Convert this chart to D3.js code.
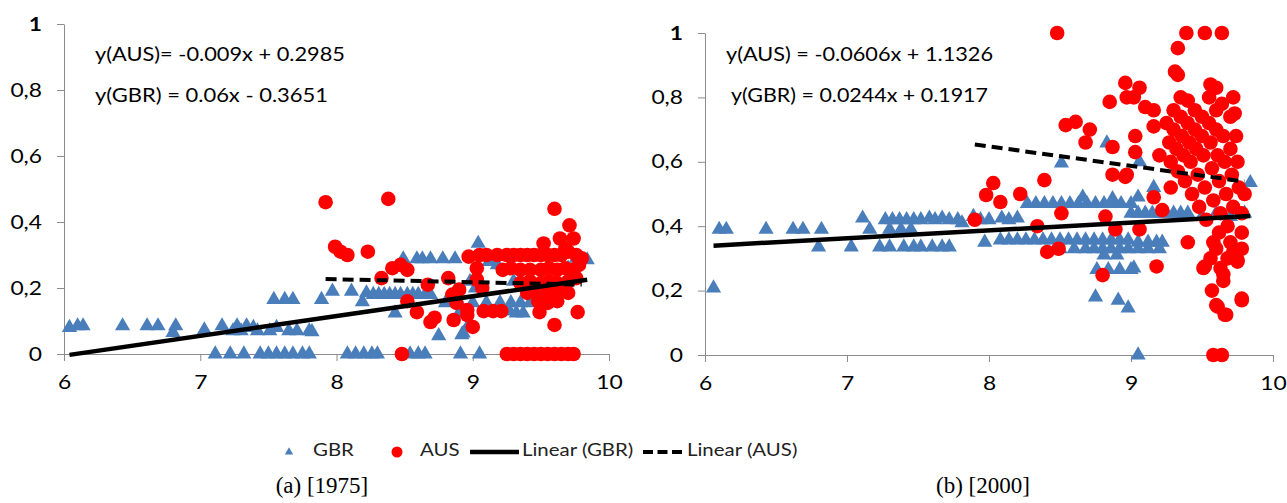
<!DOCTYPE html>
<html><head><meta charset="utf-8">
<script src="https://cdn.jsdelivr.net/npm/d3@7"></script>
<style>
html,body{margin:0;padding:0;background:#fff;}
svg{display:block;}
</style></head>
<body>
<svg id="chart" width="1287" height="503"></svg>
<script>
// ---------- DATA ----------
const xTicks = [6, 7, 8, 9, 10];
const yTicks = [0, 0.2, 0.4, 0.6, 0.8, 1];
const yTickLabels = ["0", "0,2", "0,4", "0,6", "0,8", "1"];
const seriesNames = ["GBR", "AUS", "Linear (GBR)", "Linear (AUS)"];
const captions = ["(a) [1975]", "(b) [2000]"];

// 1975 panel
const gbr1975 = [
 [6.04,0.08],[6.10,0.085],[6.14,0.085],[6.43,0.085],[6.61,0.085],[6.69,0.085],[6.80,0.065],[6.82,0.085],
 [7.03,0.073],[7.16,0.085],[7.24,0.07],[7.27,0.085],[7.30,0.07],[7.34,0.085],[7.39,0.08],[7.42,0.07],
 [7.51,0.07],[7.56,0.08],[7.65,0.07],[7.71,0.07],[7.80,0.07],[7.82,0.067],
 [7.11,0],[7.22,0],[7.32,0],[7.44,0],[7.50,0],[7.56,0],[7.62,0],[7.68,0],[7.75,0],[7.80,0],
 [7.54,0.165],[7.62,0.165],[7.68,0.165],[7.89,0.165],[8.19,0.158],
 [7.97,0.19],[8.11,0.19],[8.22,0.185],[8.27,0.18],[8.31,0.18],[8.35,0.18],[8.39,0.18],[8.43,0.18],
 [8.47,0.18],[8.52,0.18],[8.56,0.18],[8.60,0.18],[8.65,0.18],[8.69,0.18],
 [8.49,0.288],[8.59,0.288],[8.63,0.288],[8.69,0.288],[8.78,0.288],[8.87,0.288],
 [9.04,0.335],[9.84,0.285],
 [8.43,0.124],[8.90,0.124],[9.27,0.13],[9.32,0.124],[9.37,0.124],
 [8.80,0.155],[8.90,0.155],[9.00,0.155],[9.10,0.155],[9.20,0.155],[9.28,0.155],[9.35,0.155],[9.42,0.155],
 [8.75,0.055],[8.92,0.058],[8.97,0.088],[8.93,0.063],
 [8.08,0],[8.14,0],[8.20,0],[8.26,0],[8.30,0],[8.54,0],[8.60,0],[8.65,0],[8.91,0],[9.05,0],
 [9.12,0.28],[9.18,0.27],[8.98,0.22],[9.02,0.2],[9.30,0.22],[9.45,0.2],[9.55,0.22],[9.70,0.26],[9.76,0.29]
];
const aus1975 = [
 [7.92,0.46],[8.38,0.47],[7.99,0.325],[8.03,0.31],[8.08,0.30],[8.23,0.31],[8.33,0.23],[8.41,0.26],
 [8.47,0.27],[8.52,0.255],[8.52,0.16],[8.59,0.127],[8.69,0.097],[8.72,0.11],[8.67,0.21],[8.82,0.23],
 [8.85,0.18],[8.86,0.103],[8.88,0.155],[8.96,0.118],[9.00,0.082],[8.97,0.295],[9.03,0.225],[9.03,0.26],
 [9.05,0.30],[9.07,0.2],[9.08,0.13],[9.15,0.13],[9.21,0.13],[8.48,0],[8.90,0.195],[8.96,0.133],
 [9.25,0],[9.30,0],[9.35,0],[9.40,0],[9.45,0],[9.50,0],[9.55,0],[9.60,0],[9.65,0],[9.70,0],[9.74,0],
 [9.60,0.44],[9.71,0.39],[9.64,0.35],[9.74,0.35],[9.52,0.335],[9.68,0.32],
 [9.10,0.3],[9.18,0.3],[9.25,0.3],[9.30,0.3],[9.35,0.3],[9.40,0.3],[9.45,0.3],[9.50,0.3],[9.55,0.3],
 [9.60,0.3],[9.65,0.3],[9.70,0.31],[9.76,0.3],[9.80,0.29],
 [9.22,0.255],[9.28,0.26],[9.35,0.255],[9.42,0.255],[9.50,0.255],[9.56,0.26],[9.62,0.255],[9.68,0.26],
 [9.74,0.255],[9.78,0.27],
 [9.35,0.215],[9.42,0.22],[9.50,0.215],[9.56,0.22],[9.62,0.215],[9.70,0.22],[9.76,0.23],
 [9.40,0.185],[9.45,0.19],[9.52,0.185],[9.58,0.18],[9.64,0.19],[9.70,0.185],
 [9.49,0.127],[9.60,0.088],[9.77,0.127],[9.55,0.155],[9.62,0.16],[9.48,0.16]
];
const fit1975 = { GBR: [0.06, -0.3651], AUS: [-0.009, 0.2985] };
const eq1975 = ["y(AUS)= -0.009x + 0.2985", "y(GBR) = 0.06x - 0.3651"];

// 2000 panel
const gbr2000 = [
 [6.06,0.208],[6.10,0.39],[6.15,0.39],[6.43,0.39],[6.62,0.39],[6.69,0.39],[6.82,0.39],[6.80,0.335],
 [7.03,0.335],[7.11,0.425],[7.16,0.39],
 [7.27,0.42],[7.32,0.42],[7.37,0.42],[7.42,0.42],[7.47,0.42],[7.52,0.42],[7.58,0.425],[7.62,0.42],
 [7.67,0.425],[7.72,0.42],[7.78,0.42],[7.81,0.41],[7.89,0.43],
 [7.30,0.39],[7.38,0.39],[7.45,0.39],
 [7.23,0.335],[7.30,0.335],[7.40,0.335],[7.47,0.335],[7.52,0.335],[7.60,0.335],[7.67,0.335],[7.72,0.335],
 [7.94,0.42],[8.00,0.42],[8.09,0.425],[8.14,0.42],[8.20,0.425],[7.97,0.35],
 [8.08,0.357],[8.14,0.357],[8.20,0.357],[8.26,0.357],[8.32,0.357],[8.38,0.357],[8.44,0.357],[8.50,0.357],
 [8.56,0.357],[8.62,0.357],[8.68,0.357],[8.74,0.357],[8.80,0.357],[8.86,0.357],[8.92,0.357],[8.98,0.357],
 [9.05,0.35],[9.12,0.35],[9.18,0.35],[9.22,0.35],
 [8.27,0.47],[8.33,0.47],[8.39,0.47],[8.45,0.47],[8.51,0.47],[8.57,0.47],[8.63,0.47],[8.69,0.47],
 [8.75,0.47],[8.81,0.47],[8.88,0.47],[8.93,0.47],[9.00,0.47],
 [8.66,0.49],[8.87,0.485],[9.05,0.49],
 [8.83,0.658],[8.51,0.596],
 [8.50,0.33],[8.60,0.33],[8.68,0.33],[8.74,0.33],[8.80,0.33],[8.86,0.33],[8.92,0.33],[8.98,0.33],
 [9.05,0.33],[9.12,0.33],[9.20,0.33],
 [8.81,0.31],[8.90,0.31],
 [8.76,0.265],[8.84,0.265],[8.92,0.265],[9.00,0.265],[8.75,0.18],[8.91,0.17],[8.98,0.146],[9.05,0],
 [9.06,0.6],[9.16,0.52],
 [9.00,0.44],[9.05,0.44],[9.10,0.44],[9.15,0.44],[9.20,0.44],[9.25,0.44],[9.30,0.44],[9.35,0.44],[9.40,0.44],
 [9.02,0.27],[9.84,0.535],[9.50,0.43],[9.60,0.44],[9.70,0.43],[9.80,0.44]
];
const aus2000 = [
 [7.90,0.42],[7.98,0.497],[8.03,0.534],[8.08,0.475],[8.22,0.50],[8.34,0.40],[8.39,0.543],[8.41,0.32],
 [8.49,0.33],[8.48,1.0],[8.51,0.44],[8.54,0.714],[8.61,0.724],[8.68,0.66],[8.71,0.70],[8.80,0.248],
 [8.82,0.43],[8.85,0.786],[8.87,0.646],[8.87,0.56],[8.89,0.39],[8.96,0.553],[8.96,0.845],[8.97,0.80],
 [8.97,0.56],[9.02,0.80],[9.03,0.68],[9.03,0.63],[9.06,0.83],[9.06,0.39],[9.10,0.77],[9.16,0.76],
 [9.16,0.71],[9.16,0.49],[9.18,0.275],[9.20,0.62],
 [9.39,1.0],[9.52,1.0],[9.64,1.0],[9.33,0.953],[9.31,0.88],[9.33,0.87],
 [9.25,0.72],[9.27,0.66],[9.28,0.60],[9.30,0.76],[9.30,0.70],[9.32,0.64],[9.33,0.57],[9.35,0.80],
 [9.35,0.74],[9.36,0.68],[9.37,0.62],[9.38,0.54],[9.40,0.79],[9.40,0.72],[9.41,0.66],[9.42,0.60],
 [9.43,0.50],[9.45,0.76],[9.45,0.70],[9.46,0.64],[9.47,0.56],[9.48,0.46],[9.50,0.74],[9.50,0.68],
 [9.51,0.62],[9.52,0.52],[9.53,0.42],[9.55,0.80],[9.55,0.72],[9.56,0.84],[9.56,0.66],[9.57,0.58],
 [9.58,0.48],[9.60,0.83],[9.60,0.76],[9.60,0.70],[9.61,0.62],[9.62,0.54],[9.63,0.44],[9.64,0.78],
 [9.65,0.68],[9.66,0.60],[9.67,0.50],[9.68,0.40],[9.70,0.74],[9.70,0.64],[9.71,0.56],[9.72,0.80],
 [9.72,0.46],[9.73,0.75],[9.74,0.68],[9.75,0.60],[9.76,0.52],[9.78,0.44],[9.80,0.50],[9.78,0.38],
 [9.40,0.35],[9.28,0.52],[9.22,0.45],
 [9.51,0.27],[9.52,0.275],[9.56,0.30],[9.57,0.20],[9.60,0.155],[9.61,0.15],[9.63,0.27],[9.65,0.25],
 [9.65,0.23],[9.66,0.125],[9.67,0.125],[9.75,0.295],[9.75,0.29],[9.78,0.33],[9.78,0.175],[9.78,0.17],
 [9.58,0.35],[9.62,0.38],[9.70,0.35],[9.60,0.33],[9.68,0.30],[9.72,0.32],
 [9.58,0],[9.64,0]
];
const fit2000 = { GBR: [0.0244, 0.1917], AUS: [-0.0606, 1.1326] };
const eq2000 = ["y(AUS) = -0.0606x + 1.1326", "y(GBR) = 0.0244x + 0.1917"];

// ---------- DRAWING ----------
const svg = d3.select("#chart");
svg.append("rect").attr("width",1287).attr("height",503).attr("fill","#fff");

const BLUE = "#4a7ebb", RED = "#ff0000", AXIS = "#8c8c8c";
const FONT = "Lato, 'Open Sans', sans-serif";
const STRETCH = 1.2; // the chart's text is horizontally widened

function widen(sel, factor) {
  sel.each(function () {
    const len = this.getComputedTextLength();
    d3.select(this).attr("textLength", len * factor).attr("lengthAdjust", "spacingAndGlyphs");
  });
}

const panels = [
  { gbr: gbr1975, aus: aus1975, fit: fit1975, eq: eq1975, xr: [64, 609], yr: [354, 24],
    eqX: [95, 95], eqW: [250, 233] },
  { gbr: gbr2000, aus: aus2000, fit: fit2000, eq: eq2000, xr: [705, 1273], yr: [355, 33],
    eqX: [726, 731], eqW: [267, 257] }
];

const tri = d3.symbol().type(d3.symbolTriangle).size(100);

panels.forEach(p => {
  const x = d3.scaleLinear().domain([6, 10]).range(p.xr);
  const y = d3.scaleLinear().domain([0, 1]).range(p.yr);
  const g = svg.append("g");

  // axes
  const xa = g.append("g").attr("transform", `translate(0,${p.yr[0]})`)
    .call(d3.axisBottom(x).tickValues(xTicks).tickSize(7).tickSizeOuter(0).tickFormat(d3.format("d")));
  const ya = g.append("g").attr("transform", `translate(${p.xr[0]},0)`)
    .call(d3.axisLeft(y).tickValues(yTicks).tickSize(7).tickSizeOuter(0)
      .tickFormat((d, i) => yTickLabels[i]));
  [xa, ya].forEach(a => {
    a.select(".domain").attr("stroke", AXIS);
    a.selectAll(".tick line").attr("stroke", AXIS);
    a.selectAll(".tick text").attr("fill", "#000").style("font-family", FONT).style("font-size", "19px");
  });
  xa.selectAll(".tick text").attr("y", 22);
  ya.selectAll(".tick text").attr("x", -22);
  ya.selectAll(".tick text").filter(d => d === 1).style("font-weight", "bold");
  widen(xa.selectAll(".tick text"), STRETCH);
  widen(ya.selectAll(".tick text"), STRETCH);

  // GBR triangles
  g.append("g").selectAll("path").data(p.gbr).join("path")
    .attr("d", tri)
    .attr("transform", d => `translate(${x(d[0])},${y(d[1])})`)
    .attr("fill", BLUE);

  // AUS circles
  g.append("g").selectAll("circle").data(p.aus).join("circle")
    .attr("cx", d => x(d[0])).attr("cy", d => y(d[1])).attr("r", 7.3)
    .attr("fill", RED);

  // trend lines from fitted coefficients over each series' x extent
  const drawFit = (name, data, dashed) => {
    const [m, b] = p.fit[name];
    const ext = d3.extent(data, d => d[0]);
    g.append("path")
      .attr("d", d3.line().x(d => x(d)).y(d => y(m * d + b))(ext))
      .attr("stroke", "#000").attr("stroke-width", dashed ? 4 : 4.5)
      .attr("fill", "none")
      .attr("stroke-dasharray", dashed ? "11,6" : null);
  };
  drawFit("GBR", p.gbr, false);
  drawFit("AUS", p.aus, true);

  // equations
  p.eq.forEach((t, i) => {
    g.append("text").attr("x", p.eqX[i]).attr("y", i === 0 ? 56 : 97)
      .attr("dominant-baseline", "middle")
      .attr("textLength", p.eqW[i]).attr("lengthAdjust", "spacingAndGlyphs")
      .style("font-family", FONT).style("font-size", "20px").attr("fill", "#000").text(t);
  });
});

// legend
const lg = svg.append("g").attr("transform", "translate(0,452)");
lg.append("path").attr("d", d3.symbol().type(d3.symbolTriangle).size(30)).attr("transform", "translate(289,0)").attr("fill", BLUE);
lg.append("circle").attr("cx", 397).attr("cy", 0).attr("r", 5.5).attr("fill", RED);
lg.append("line").attr("x1", 470).attr("x2", 519).attr("stroke", "#000").attr("stroke-width", 4.5);
lg.append("line").attr("x1", 643).attr("x2", 682).attr("stroke", "#000").attr("stroke-width", 4).attr("stroke-dasharray", "10,4.5");
const legX = [313, 420, 522, 687];
const legText = lg.selectAll("text.leg").data(seriesNames).join("text").attr("class", "leg")
  .attr("x", (d, i) => legX[i]).attr("y", 0).attr("dominant-baseline", "middle")
  .style("font-family", FONT).style("font-size", "17px").attr("fill", "#222").text(d => d);
widen(legText, STRETCH);

// captions
const capX = [322, 983];
captions.forEach((c, i) => {
  svg.append("text").attr("x", capX[i]).attr("y", 488).attr("text-anchor", "middle")
    .attr("dominant-baseline", "middle")
    .style("font-family", "'Liberation Serif', 'Times New Roman', serif").style("font-size", "23px")
    .attr("fill", "#000").text(c);
});
</script>
</body></html>
